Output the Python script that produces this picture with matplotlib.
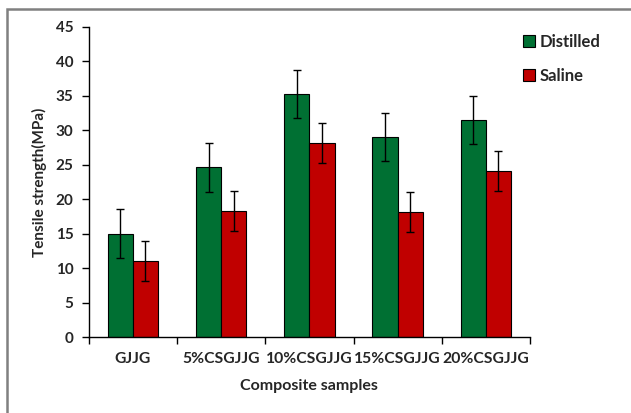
import matplotlib
matplotlib.use("Agg")
import matplotlib.pyplot as plt
import numpy as np
from matplotlib.patches import Rectangle

categories = ["GJJG", "5%CSGJJG", "10%CSGJJG", "15%CSGJJG", "20%CSGJJG"]
distilled = [15.0, 24.6, 35.3, 29.0, 31.5]
distilled_err = [3.5, 3.5, 3.5, 3.5, 3.5]
saline = [11.0, 18.3, 28.1, 18.1, 24.1]
saline_err = [2.9, 2.9, 2.9, 2.9, 2.9]

plt.rcParams['font.family'] = ['Lato', 'DejaVu Sans']

fig = plt.figure(figsize=(6.31, 4.13), dpi=100)
ax = fig.add_axes([0.1406, 0.184, 0.6994, 0.751])

x = np.arange(len(categories))
w = 0.285
green = "#007033"
red = "#C00000"
ekw = dict(elinewidth=1.0, capthick=1.0, ecolor="black")
ax.bar(x - w/2, distilled, w, color=green, edgecolor="black", linewidth=0.8,
       yerr=distilled_err, capsize=2.6, error_kw=ekw, label="Distilled")
ax.bar(x + w/2, saline, w, color=red, edgecolor="black", linewidth=0.8,
       yerr=saline_err, capsize=2.6, error_kw=ekw, label="Saline")

ax.set_xlim(-0.5, len(categories) - 0.5)
ax.set_ylim(0, 45)
ax.set_yticks(np.arange(0, 46, 5))
ax.set_xticks(x)
ax.set_xticklabels(categories, fontsize=11.3, fontweight="bold", color="#262626")
ax.tick_params(axis="x", length=0, pad=11)
ax.set_xticks(np.arange(-0.5, len(categories), 1), minor=True)
ax.tick_params(axis="x", which="minor", length=5, width=1, direction="out")
ax.tick_params(axis="y", length=5, width=1, direction="out", labelsize=11, pad=6)
for lab in ax.get_yticklabels():
    lab.set_fontweight("bold")
    lab.set_color("#262626")

for s in ["top", "right"]:
    ax.spines[s].set_visible(False)
for s in ["left", "bottom"]:
    ax.spines[s].set_linewidth(1.0)

ax.set_ylabel("Tensile strength(MPa)", fontsize=11, fontweight="bold", color="#262626", labelpad=6)
ax.set_xlabel("Composite samples", fontsize=11.5, fontweight="bold", color="#262626", labelpad=9)

leg = ax.legend(loc="upper left", bbox_to_anchor=(0.95, 1.025), frameon=False,
                handlelength=0.7, handleheight=0.7, handletextpad=0.3,
                labelspacing=1.05, prop=dict(size=12, weight="bold"))
for t in leg.get_texts():
    t.set_color("#262626")

fig.patches.append(Rectangle((7/631, -0.1), 1.2, 1 - 8.7/413 + 0.1, transform=fig.transFigure,
                             fill=False, edgecolor="#808080", linewidth=1.8))

fig.savefig("out.png", dpi=100)
